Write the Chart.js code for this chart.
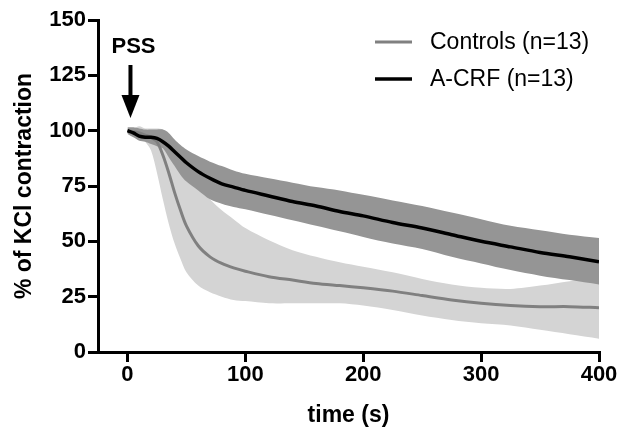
<!DOCTYPE html>
<html>
<head>
<meta charset="utf-8">
<script src="https://cdn.jsdelivr.net/npm/chart.js@4.4.0/dist/chart.umd.min.js"></script>
<style>
    body { margin: 0; background: #fff; }
    #wrap { width: 621px; height: 429px; position: relative; }
</style>
</head>
<body>
<div id="wrap"><canvas id="kclChart"></canvas></div>
<script>
// Zaman noktaları (s)
const time = [0, 5, 10, 15, 20, 25, 30, 35, 40, 45, 50, 60, 70, 80, 90, 100, 120, 140, 160, 180, 200, 225, 250, 275, 300, 325, 350, 375, 400];

// Controls (n=13): ortalama ve hata bandı
const ctrlMean  = [100, 99.5, 99, 98, 97, 95, 89, 81, 72, 64, 57, 48, 43, 40, 38, 36.5, 34, 32.5, 31, 30, 29, 27.5, 25.5, 23.5, 22, 21, 20.5, 20.5, 20];
const ctrlUpper = [101, 101, 102, 101, 101, 101, 100.5, 97, 91, 87, 82, 75, 69, 64, 60, 56, 50.5, 46, 43, 40.5, 38.5, 36, 33, 30.5, 29, 28.5, 30, 32, 33.5];
const ctrlLower = [99, 98.5, 97, 95, 91, 81, 69, 58, 49, 42, 36, 30, 27, 25, 23.5, 23, 22, 22, 22, 22, 21, 19, 16.5, 14.5, 13, 12, 10, 8, 6];

// A-CRF (n=13): ortalama ve hata bandı
const acrfMean  = [100, 99, 97.5, 97, 97, 96.5, 95, 93, 90.5, 88, 85.5, 81.5, 78.5, 76, 74.5, 73, 70.5, 68, 66, 63.5, 61.5, 58.5, 56, 53, 50, 47.5, 45, 43, 40.8];
const acrfUpper = [101.5, 101.5, 101, 100.5, 100.5, 100.5, 100.5, 99, 96, 93.5, 91.5, 88.5, 86, 84, 82, 80.5, 78.5, 76.5, 74.5, 73, 71, 68.5, 66, 63, 60, 57, 55, 53, 51.5];
const acrfLower = [98.5, 97, 95.5, 95, 94, 93, 92, 88, 84, 80, 77, 73, 69, 67, 65.5, 64.5, 62, 59.5, 57, 54.5, 52, 49, 46.5, 43, 40, 37, 34.5, 32.5, 30.5];

const xTicks = [0, 100, 200, 300, 400];
const seriesNames = ['Controls (n=13)', 'A-CRF (n=13)'];

const FONT = "'Liberation Sans', Arial, sans-serif";

function pts(values) {
    return time.map((t, i) => ({ x: t, y: values[i] }));
}

// PSS oku ve lejant
const overlayPlugin = {
    id: 'overlay',
    afterDraw(chart) {
        const ctx = chart.ctx;
        const x0 = chart.scales.x.getPixelForValue(0);
        ctx.save();
        ctx.fillStyle = '#000';
        ctx.strokeStyle = '#000';
        ctx.font = 'bold 22px ' + FONT;
        ctx.textAlign = 'center';
        ctx.textBaseline = 'middle';
        ctx.fillText('PSS', x0 + 6, 47);

        const ax = x0 + 3;
        ctx.lineWidth = 4;
        ctx.beginPath();
        ctx.moveTo(ax, 65);
        ctx.lineTo(ax, 97);
        ctx.stroke();
        ctx.beginPath();
        ctx.moveTo(ax - 9, 95);
        ctx.lineTo(ax + 9, 95);
        ctx.lineTo(ax, 118);
        ctx.closePath();
        ctx.fill();

        // lejant
        const items = [
            { label: seriesNames[0], color: '#808080', width: 3, y: 42 },
            { label: seriesNames[1], color: '#000', width: 3.5, y: 79 }
        ];
        ctx.font = '23px ' + FONT;
        ctx.textAlign = 'left';
        items.forEach(it => {
            ctx.strokeStyle = it.color;
            ctx.lineWidth = it.width;
            ctx.beginPath();
            ctx.moveTo(375, it.y);
            ctx.lineTo(412, it.y);
            ctx.stroke();
            ctx.fillStyle = '#000';
            ctx.fillText(it.label, 430, it.y + 1);
        });
        ctx.restore();
    }
};

document.addEventListener('DOMContentLoaded', function() {
    const kclChart = new Chart(
        document.getElementById('kclChart'),
        {
            type: 'line',
            data: {
                datasets: [
                    {
                        label: seriesNames[1],
                        data: pts(acrfMean),
                        borderColor: '#000',
                        borderWidth: 3.5,
                        pointRadius: 0,
                        tension: 0.3,
                        fill: false
                    },
                    {
                        label: seriesNames[0],
                        data: pts(ctrlMean),
                        borderColor: '#808080',
                        borderWidth: 3,
                        pointRadius: 0,
                        tension: 0.3,
                        fill: false
                    },
                    {
                        label: 'A-CRF upper',
                        data: pts(acrfUpper),
                        borderWidth: 0,
                        pointRadius: 0,
                        tension: 0.3,
                        backgroundColor: '#959595',
                        fill: '+1'
                    },
                    {
                        label: 'A-CRF lower',
                        data: pts(acrfLower),
                        borderWidth: 0,
                        pointRadius: 0,
                        tension: 0.3,
                        fill: false
                    },
                    {
                        label: 'Controls upper',
                        data: pts(ctrlUpper),
                        borderWidth: 0,
                        pointRadius: 0,
                        tension: 0.3,
                        backgroundColor: '#d4d4d4',
                        fill: '+1'
                    },
                    {
                        label: 'Controls lower',
                        data: pts(ctrlLower),
                        borderWidth: 0,
                        pointRadius: 0,
                        tension: 0.3,
                        fill: false
                    }
                ]
            },
            options: {
                responsive: true,
                maintainAspectRatio: false,
                animation: false,
                layout: {
                    padding: { top: 20, right: 22, bottom: 0, left: 0 }
                },
                plugins: {
                    legend: { display: false },
                    tooltip: { enabled: false }
                },
                scales: {
                    x: {
                        type: 'linear',
                        min: -25,
                        max: 400,
                        afterBuildTicks: function(scale) {
                            scale.ticks = xTicks.map(v => ({ value: v }));
                        },
                        afterFit: function(scale) {
                            scale.height = 77;
                        },
                        grid: {
                            display: true,
                            drawOnChartArea: false,
                            drawTicks: true,
                            tickLength: 10,
                            color: '#000',
                            lineWidth: 3
                        },
                        border: { display: true, color: '#000', width: 3 },
                        ticks: {
                            color: '#000',
                            padding: 0,
                            maxRotation: 0,
                            font: { family: FONT, size: 22, weight: 'bold' }
                        },
                        title: {
                            display: true,
                            text: 'time (s)',
                            color: '#000',
                            padding: { top: 0, bottom: 0 },
                            font: { family: FONT, size: 23, weight: 'bold' }
                        }
                    },
                    y: {
                        min: 0,
                        max: 150,
                        afterFit: function(scale) {
                            scale.width = 98;
                        },
                        grid: {
                            display: true,
                            drawOnChartArea: false,
                            drawTicks: true,
                            tickLength: 10,
                            color: '#000',
                            lineWidth: 3
                        },
                        border: { display: true, color: '#000', width: 3 },
                        ticks: {
                            stepSize: 25,
                            color: '#000',
                            padding: 2,
                            font: { family: FONT, size: 22, weight: 'bold' }
                        },
                        title: {
                            display: true,
                            text: '% of KCl contraction',
                            color: '#000',
                            padding: { top: 11, bottom: 0 },
                            font: { family: FONT, size: 23, weight: 'bold' }
                        }
                    }
                }
            },
            plugins: [overlayPlugin]
        }
    );
});
</script>
</body>
</html>
